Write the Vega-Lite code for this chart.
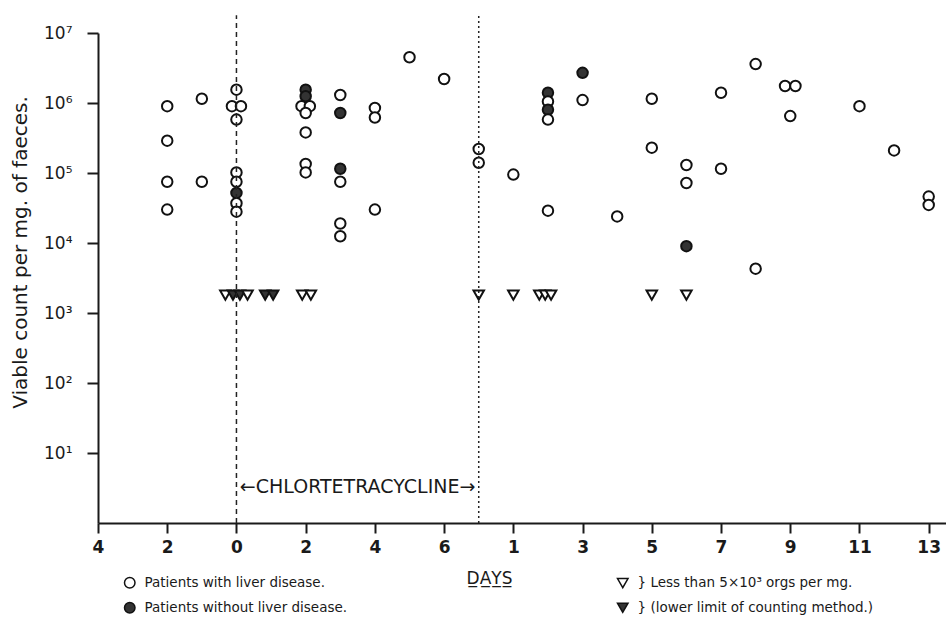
{
  "$schema": "https://vega.github.io/schema/vega-lite/v6.json",
  "width": 848,
  "height": 490,
  "autosize": {"type": "none"},
  "padding": {"left": 98, "top": 33, "right": 0, "bottom": 103},
  "background": "white",
  "config": {
    "view": {"stroke": null},
    "font": "DejaVu Sans",
    "axis": {"grid": false, "domainColor": "#1a1a1a", "tickColor": "#1a1a1a", "labelColor": "#1a1a1a", "titleColor": "#1a1a1a"}
  },
  "layer": [
    {
      "data": {"values": [
        {"day": -2, "count": 900000, "liver": "with", "below": false},
        {"day": -2, "count": 290000, "liver": "with", "below": false},
        {"day": -2, "count": 75000, "liver": "with", "below": false},
        {"day": -2, "count": 30000, "liver": "with", "below": false},
        {"day": -1, "count": 1150000, "liver": "with", "below": false},
        {"day": -1, "count": 75000, "liver": "with", "below": false},
        {"day": 0, "count": 1550000, "liver": "with", "below": false},
        {"day": -0.13, "count": 900000, "liver": "with", "below": false},
        {"day": 0.13, "count": 900000, "liver": "with", "below": false},
        {"day": 0, "count": 580000, "liver": "with", "below": false},
        {"day": 0, "count": 102000, "liver": "with", "below": false},
        {"day": 0, "count": 75000, "liver": "with", "below": false},
        {"day": 0, "count": 52000, "liver": "without", "below": false},
        {"day": 0, "count": 37000, "liver": "with", "below": false},
        {"day": 0, "count": 28000, "liver": "with", "below": false},
        {"day": -0.32, "count": 1800, "liver": "with", "below": true},
        {"day": -0.1, "count": 1800, "liver": "without", "below": true},
        {"day": 0.1, "count": 1800, "liver": "without", "below": true},
        {"day": 0.32, "count": 1800, "liver": "with", "below": true},
        {"day": 0.83, "count": 1800, "liver": "without", "below": true},
        {"day": 1.06, "count": 1800, "liver": "without", "below": true},
        {"day": 1.9, "count": 1800, "liver": "with", "below": true},
        {"day": 2.15, "count": 1800, "liver": "with", "below": true},
        {"day": 2, "count": 1550000, "liver": "without", "below": false},
        {"day": 2, "count": 1250000, "liver": "without", "below": false},
        {"day": 1.88, "count": 900000, "liver": "with", "below": false},
        {"day": 2.12, "count": 900000, "liver": "with", "below": false},
        {"day": 2, "count": 720000, "liver": "with", "below": false},
        {"day": 2, "count": 380000, "liver": "with", "below": false},
        {"day": 2, "count": 135000, "liver": "with", "below": false},
        {"day": 2, "count": 102000, "liver": "with", "below": false},
        {"day": 3, "count": 1300000, "liver": "with", "below": false},
        {"day": 3, "count": 720000, "liver": "without", "below": false},
        {"day": 3, "count": 115000, "liver": "without", "below": false},
        {"day": 3, "count": 75000, "liver": "with", "below": false},
        {"day": 3, "count": 19000, "liver": "with", "below": false},
        {"day": 3, "count": 12500, "liver": "with", "below": false},
        {"day": 4, "count": 850000, "liver": "with", "below": false},
        {"day": 4, "count": 620000, "liver": "with", "below": false},
        {"day": 4, "count": 30000, "liver": "with", "below": false},
        {"day": 5, "count": 4500000, "liver": "with", "below": false},
        {"day": 6, "count": 2200000, "liver": "with", "below": false},
        {"day": 7, "count": 220000, "liver": "with", "below": false},
        {"day": 7, "count": 140000, "liver": "with", "below": false},
        {"day": 7, "count": 1800, "liver": "with", "below": true},
        {"day": 8, "count": 95000, "liver": "with", "below": false},
        {"day": 8, "count": 1800, "liver": "with", "below": true},
        {"day": 9, "count": 1400000, "liver": "without", "below": false},
        {"day": 9, "count": 1050000, "liver": "with", "below": false},
        {"day": 9, "count": 800000, "liver": "without", "below": false},
        {"day": 9, "count": 580000, "liver": "with", "below": false},
        {"day": 9, "count": 29000, "liver": "with", "below": false},
        {"day": 8.75, "count": 1800, "liver": "with", "below": true},
        {"day": 8.92, "count": 1800, "liver": "with", "below": true},
        {"day": 9.09, "count": 1800, "liver": "with", "below": true},
        {"day": 10, "count": 2700000, "liver": "without", "below": false},
        {"day": 10, "count": 1100000, "liver": "with", "below": false},
        {"day": 11, "count": 24000, "liver": "with", "below": false},
        {"day": 12, "count": 1150000, "liver": "with", "below": false},
        {"day": 12, "count": 230000, "liver": "with", "below": false},
        {"day": 12, "count": 1800, "liver": "with", "below": true},
        {"day": 13, "count": 130000, "liver": "with", "below": false},
        {"day": 13, "count": 72000, "liver": "with", "below": false},
        {"day": 13, "count": 9000, "liver": "without", "below": false},
        {"day": 13, "count": 1800, "liver": "with", "below": true},
        {"day": 14, "count": 1400000, "liver": "with", "below": false},
        {"day": 14, "count": 115000, "liver": "with", "below": false},
        {"day": 15, "count": 3600000, "liver": "with", "below": false},
        {"day": 15, "count": 4300, "liver": "with", "below": false},
        {"day": 15.85, "count": 1750000, "liver": "with", "below": false},
        {"day": 16.15, "count": 1750000, "liver": "with", "below": false},
        {"day": 16, "count": 650000, "liver": "with", "below": false},
        {"day": 18, "count": 900000, "liver": "with", "below": false},
        {"day": 19, "count": 210000, "liver": "with", "below": false},
        {"day": 20, "count": 46000, "liver": "with", "below": false},
        {"day": 20, "count": 35000, "liver": "with", "below": false}
      ]},
      "transform": [
        {"calculate": "datum.below ? (datum.liver == 'with' ? 'Less than 5×10³ orgs per mg.' : '(lower limit of counting method.)') : (datum.liver == 'with' ? 'Patients with liver disease.' : 'Patients without liver disease.')", "as": "key"}
      ],
      "mark": {"type": "point", "filled": true, "stroke": "#111", "strokeWidth": 2, "opacity": 1, "size": 110},
      "encoding": {
        "x": {
          "field": "day", "type": "quantitative",
          "scale": {"domain": [-4, 20.5], "nice": false, "zero": false},
          "axis": {
            "values": [-4, -2, 0, 2, 4, 6, 8, 10, 12, 14, 16, 18, 20],
            "labelExpr": "datum.value <= 6 ? format(abs(datum.value), 'd') : format(datum.value - 7, 'd')",
            "labelFlush": false, "labelOverlap": false,
            "labelFontSize": 17, "labelFontWeight": "bold", "labelPadding": 6,
            "tickSize": 10, "tickWidth": 2, "domainWidth": 2,
            "title": "D̲A̲Y̲S̲", "titleFontSize": 17, "titleFontWeight": "normal",
            "titleX": 391, "titleY": 60, "titleBaseline": "alphabetic", "titleAlign": "center"
          }
        },
        "y": {
          "field": "count", "type": "quantitative",
          "scale": {"type": "log", "domain": [1, 10000000], "nice": false},
          "axis": {
            "values": [10, 100, 1000, 10000, 100000, 1000000, 10000000],
            "labelExpr": "'10' + ['', '¹', '²', '³', '⁴', '⁵', '⁶', '⁷'][round(log(datum.value) / LN10)]",
            "labelOverlap": false, "labelFlush": false,
            "labelFontSize": 17, "labelPadding": 15,
            "tickSize": 11, "tickWidth": 2, "domainWidth": 2,
            "title": "Viable count per mg. of faeces.", "titleFontSize": 20, "titleFontWeight": "normal",
            "titleX": -78, "titleY": 219, "titleAngle": 270, "titleBaseline": "middle", "titleAlign": "center"
          }
        },
        "shape": {
          "field": "key", "type": "nominal",
          "scale": {
            "domain": ["Patients with liver disease.", "Patients without liver disease.", "Less than 5×10³ orgs per mg.", "(lower limit of counting method.)"],
            "range": ["circle", "circle", "triangle-down", "triangle-down"]
          },
          "legend": {
            "title": null, "orient": "none", "legendX": 25, "legendY": 543,
            "columns": 2, "columnPadding": 266, "rowPadding": 8,
            "labelFontSize": 13.5, "labelOffset": 8, "labelLimit": 500, "labelColor": "#1a1a1a",
            "symbolSize": 110, "symbolStrokeWidth": 1.5, "symbolStrokeColor": "#111", "symbolOpacity": 1,
            "labelExpr": "(indexof(datum.label, 'Less') == 0 || indexof(datum.label, '(') == 0) ? '}  ' + datum.label : datum.label",
            "encode": {"symbols": {"update": {"stroke": {"value": "#111"}, "strokeWidth": {"value": 1.5}}}}
          }
        },
        "fill": {
          "field": "key", "type": "nominal",
          "scale": {
            "domain": ["Patients with liver disease.", "Patients without liver disease.", "Less than 5×10³ orgs per mg.", "(lower limit of counting method.)"],
            "range": ["white", "#333", "white", "#333"]
          },
          "legend": {
            "title": null, "orient": "none", "legendX": 25, "legendY": 543,
            "columns": 2, "columnPadding": 266, "rowPadding": 8,
            "labelFontSize": 13.5, "labelOffset": 8, "labelLimit": 500, "labelColor": "#1a1a1a",
            "symbolSize": 110, "symbolStrokeWidth": 1.5, "symbolStrokeColor": "#111", "symbolOpacity": 1,
            "labelExpr": "(indexof(datum.label, 'Less') == 0 || indexof(datum.label, '(') == 0) ? '}  ' + datum.label : datum.label",
            "encode": {"symbols": {"update": {"stroke": {"value": "#111"}, "strokeWidth": {"value": 1.5}}}}
          }
        }
      }
    },
    {
      "data": {"values": [
        {"phase": "start of chlortetracycline", "day": 0},
        {"phase": "end of chlortetracycline", "day": 7}
      ]},
      "mark": {"type": "rule", "strokeWidth": 1.5, "color": "#222"},
      "encoding": {
        "x": {"field": "day", "type": "quantitative"},
        "y": {"datum": 1, "type": "quantitative"},
        "y2": {"datum": 18000000},
        "strokeDash": {
          "field": "phase", "type": "nominal", "legend": null,
          "scale": {"domain": ["start of chlortetracycline", "end of chlortetracycline"], "range": [[5, 4], [2, 3]]}
        }
      }
    },
    {
      "data": {"values": [{"label": "←CHLORTETRACYCLINE→", "day": 3.5}]},
      "mark": {"type": "text", "fontSize": 19, "align": "center", "baseline": "middle", "color": "#1a1a1a"},
      "encoding": {
        "x": {"field": "day", "type": "quantitative"},
        "y": {"datum": 3.27, "type": "quantitative"},
        "text": {"field": "label"}
      }
    }
  ]
}
